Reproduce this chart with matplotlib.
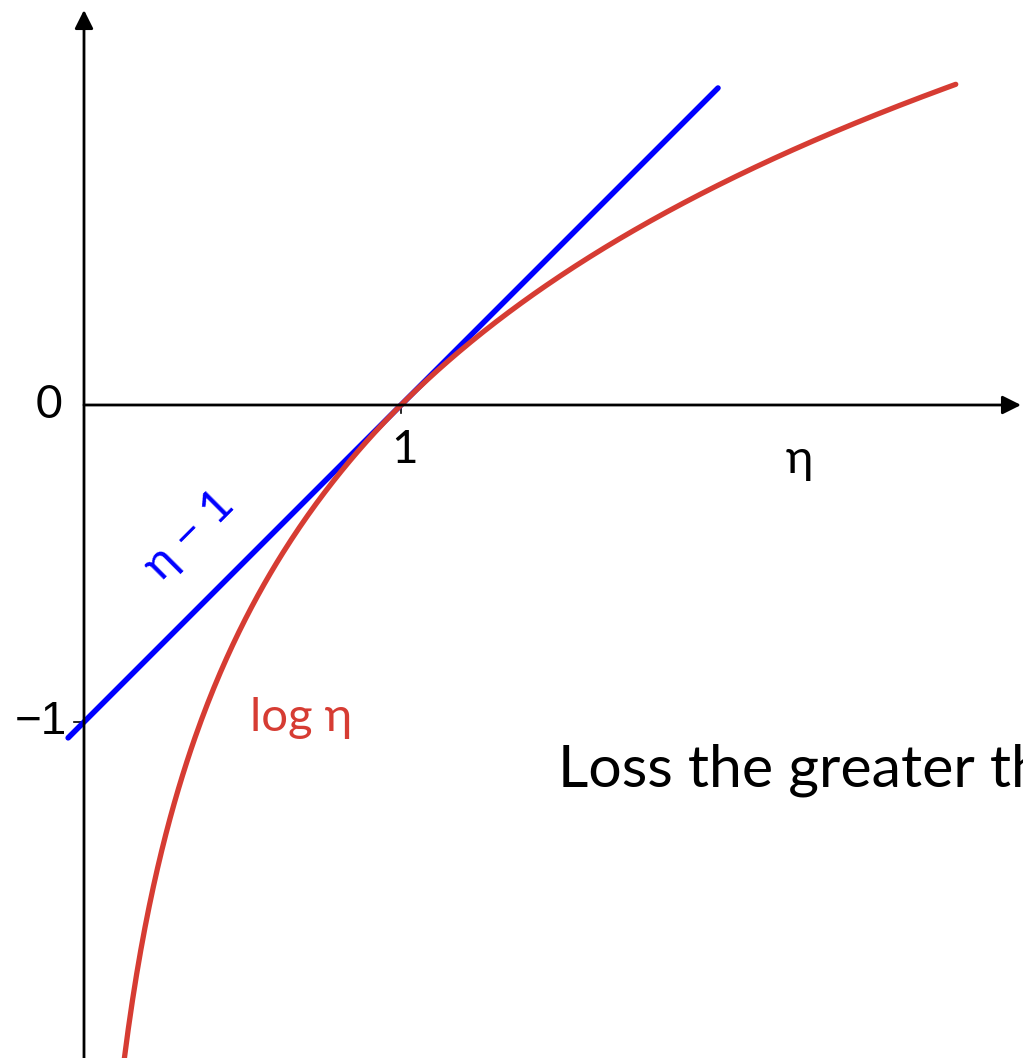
import matplotlib.pyplot as plt
import numpy as np

plt.rcParams['font.family'] = ['Lato', 'DejaVu Sans']

# curve domains (in eta units) and the tick values on each axis
line_domain = [-0.05, 2.0]
log_domain = [0.12, 2.75]
xticks = [1]
yticks = [0, -1]
ytick_labels = ['0', '\u22121']

blue = '#0000ff'
red = '#d63c33'

# one unit = 317 px on both axes, origin at pixel (84, 405)
unit = 317.0
W, H = 1023, 1058
ox, oy = 84, 405

fig = plt.figure(figsize=(W / 100, H / 100), dpi=100)
ax = fig.add_axes([0, 0, 1, 1])
ax.set_xlim(-ox / unit, (W - ox) / unit)
ax.set_ylim(-(H - oy) / unit, oy / unit)
ax.axis('off')

# axes with arrow heads
arrow = dict(arrowstyle='-|>', color='black', lw=2.0, mutation_scale=28,
             shrinkA=0, shrinkB=0)
ax.annotate('', xy=(0, (oy - 10) / unit), xytext=(0, -(H - oy) / unit),
            arrowprops=arrow)
ax.annotate('', xy=((W - 2 - ox) / unit, 0), xytext=(0, 0), arrowprops=arrow)

# small ticks
for t in xticks:
    ax.plot([t, t], [0, -8 / unit], color='black', lw=1.2)
    ax.text(t + 4 / unit, -45 / unit, str(t), fontsize=33,
            ha='center', va='center')
for t, lab in zip(yticks, ytick_labels):
    if t != 0:
        ax.plot([-10 / unit, 0], [t, t], color='black', lw=1.2)
        ax.text(-17 / unit, t, lab, fontsize=33, ha='right', va='center',
                family=['Liberation Sans', 'DejaVu Sans'])
    else:
        ax.text(-22 / unit, t, lab, fontsize=33, ha='right', va='center')

ax.text(715 / unit, -55 / unit, '\u03b7', fontsize=34, ha='center', va='center')

# tangent line and log curve
eta_l = np.linspace(line_domain[0], line_domain[1], 50)
ax.plot(eta_l, eta_l - 1, color=blue, lw=4.0, solid_capstyle='round')

eta = np.linspace(log_domain[0], log_domain[1], 400)
ax.plot(eta, np.log(eta), color=red, lw=3.8, solid_capstyle='round')

# labels
ax.text(106 / unit, -130 / unit, '\u03b7 \u2212 1', fontsize=34, color=blue,
        rotation=45, ha='center', va='center', rotation_mode='anchor')
ax.text(166 / unit, -313 / unit, 'log \u03b7', fontsize=34, color=red,
        ha='left', va='center')

ax.text(474 / unit, -365 / unit, 'Loss the greater than', fontsize=42.5,
        color='black', ha='left', va='center')

fig.savefig('out.png', dpi=100)
